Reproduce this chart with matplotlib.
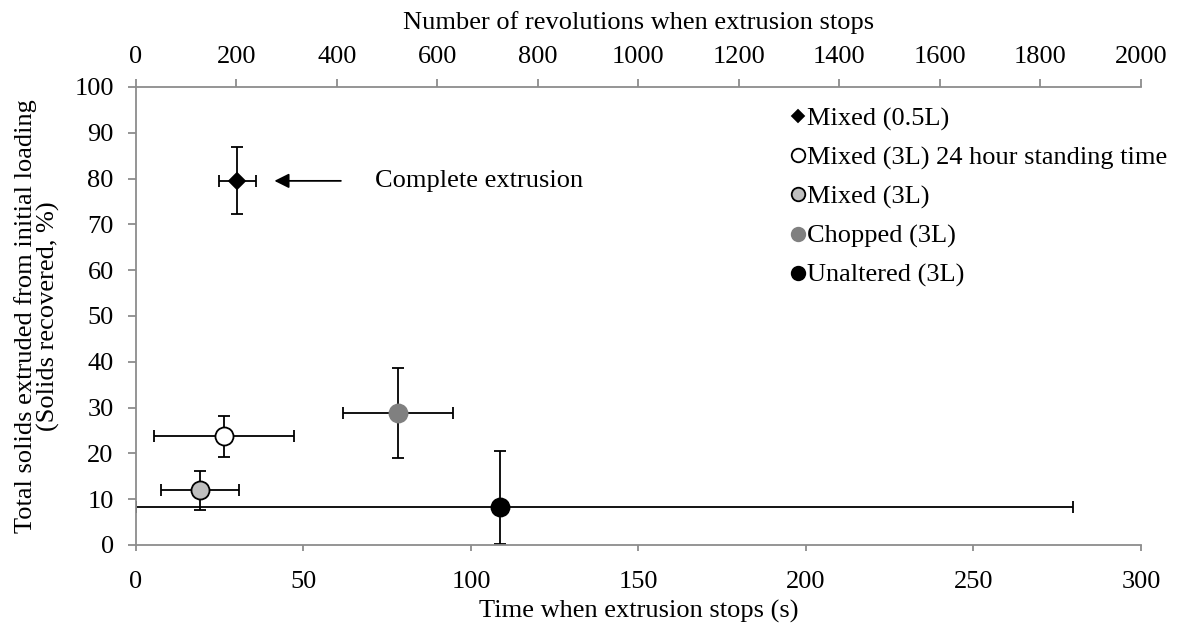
import matplotlib
matplotlib.use("Agg")
import matplotlib.pyplot as plt

plt.rcParams['font.family'] = ['Liberation Serif', 'DejaVu Serif']
plt.rcParams['font.size'] = 19

# series: label, time (s), time err (low, high), solids (%), solids err (low, high)
labels = ["Mixed (0.5L)", "Mixed (3L) 24 hour standing time", "Mixed (3L)",
          "Chopped (3L)", "Unaltered (3L)"]
time_s = [30.1, 26.3, 19.1, 78.2, 108.7]
time_err_lo = [5.2, 21.0, 11.6, 16.4, 108.7]
time_err_hi = [5.6, 20.8, 11.8, 16.4, 171.0]
solids = [79.5, 23.7, 12.0, 28.9, 8.2]
solids_err_lo = [7.3, 4.5, 4.3, 9.9, 8.0]
solids_err_hi = [7.3, 4.4, 4.1, 9.8, 12.3]

markers = ["D", "o", "o", "o", "o"]
msizes = [8.5, 13, 13, 13, 13]
faces = ["black", "white", "#bfbfbf", "#808080", "black"]
edges = ["black", "black", "black", "#808080", "black"]

spine_col = "#8c8c8c"

fig = plt.figure(figsize=(11.77, 6.28), dpi=100)
ax = fig.add_axes([0.1155, 0.1322, 0.8539, 0.7293])

handles = []
for i in range(len(labels)):
    ax.errorbar(time_s[i], solids[i],
                xerr=[[time_err_lo[i]], [time_err_hi[i]]],
                yerr=[[solids_err_lo[i]], [solids_err_hi[i]]],
                fmt="none", ecolor="black", elinewidth=1.3, capsize=4.5,
                capthick=1.3, zorder=2)
    h, = ax.plot(time_s[i], solids[i], linestyle="none", marker=markers[i],
                 markersize=msizes[i], markerfacecolor=faces[i],
                 markeredgecolor=edges[i], markeredgewidth=1.3, zorder=3,
                 label=labels[i])
    handles.append(h)

ax.set_xlim(0, 300)
ax.set_ylim(0, 100)
ax.set_xticks(range(0, 301, 50))
ax.set_yticks(range(0, 101, 10))
ax.set_xlabel("Time when extrusion stops (s)", labelpad=5)
ax.set_ylabel("Total solids extruded from initial loading\n(Solids recovered, %)",
              labelpad=10, linespacing=1.0)

for side in ["right", "top"]:
    ax.spines[side].set_visible(False)
for side in ["left", "bottom"]:
    ax.spines[side].set_color(spine_col)
    ax.spines[side].set_linewidth(1.3)
ax.tick_params(axis="y", color=spine_col, width=1.3, length=6, pad=10)
ax.tick_params(axis="x", color=spine_col, width=1.3, length=4, pad=15)

# secondary axis: revolutions
ax2 = ax.twiny()
ax2.set_xlim(0, 2000)
ax2.set_xticks(range(0, 2001, 200))
ax2.set_xlabel("Number of revolutions when extrusion stops", labelpad=12)
for side in ["right", "left", "bottom"]:
    ax2.spines[side].set_visible(False)
ax2.spines["top"].set_color(spine_col)
ax2.spines["top"].set_linewidth(1.3)
ax2.tick_params(axis="x", direction="out", color=spine_col, width=1.3,
                length=6, pad=8)

# annotation arrow
ax.annotate("", xy=(40.5, 79.5), xytext=(62, 79.5),
            arrowprops=dict(arrowstyle="-|>", color="black", lw=1.3,
                            mutation_scale=22))
ax.text(71.5, 79.5, "Complete extrusion", va="center", ha="left")

ax.legend(handles=handles, loc="upper left", bbox_to_anchor=(0.672, 0.83),
          bbox_transform=fig.transFigure, frameon=False, handlelength=0.5,
          handletextpad=0.1, labelspacing=0.58, borderaxespad=0,
          borderpad=0, markerscale=0.75)

fig.savefig("out.png", dpi=100)
